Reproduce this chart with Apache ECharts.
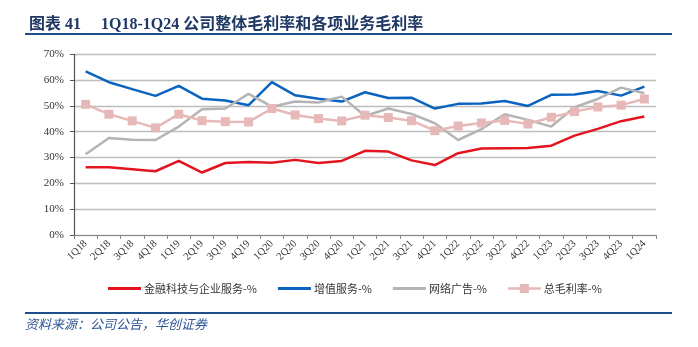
<!DOCTYPE html>
<html>
<head>
<meta charset="utf-8">
<script src="https://cdn.jsdelivr.net/npm/echarts@6/dist/echarts.min.js"></script>
<style>
  html, body { margin: 0; padding: 0; background: #ffffff; }
  #chart { width: 698px; height: 347px; }
</style>
</head>
<body>
<div id="chart"></div>
<script>
// Quarter labels
const quarters = ['1Q18','2Q18','3Q18','4Q18','1Q19','2Q19','3Q19','4Q19',
  '1Q20','2Q20','3Q20','4Q20','1Q21','2Q21','3Q21','4Q21',
  '1Q22','2Q22','3Q22','4Q22','1Q23','2Q23','3Q23','4Q23','1Q24'];

// Gross margin by segment (%)
const fintech = [26.2,26.2,25.5,24.7,28.7,24.2,27.9,28.3,28.0,29.1,27.9,28.7,
  32.6,32.3,28.9,27.1,31.7,33.5,33.6,33.7,34.6,38.5,41.1,44.1,45.9];
const vas = [63.4,59.2,56.5,53.9,57.8,52.8,52.1,50.3,59.2,54.1,52.8,51.7,
  55.3,53.1,53.2,49.0,50.8,50.9,51.9,50.0,54.3,54.4,55.8,54.0,57.5];
const ads = [31.3,37.6,36.9,36.8,42.0,48.7,49.0,54.7,49.7,51.7,51.3,53.6,
  46.1,49.0,46.9,43.3,36.8,41.0,46.8,44.6,42.0,49.5,52.7,57.1,54.9];
const total = [50.6,46.8,44.2,41.5,46.8,44.3,43.9,43.8,49.0,46.5,45.1,44.2,
  46.4,45.5,44.3,40.4,42.2,43.4,44.4,43.0,45.6,47.8,49.6,50.3,52.7];

const seriesNames = ['金融科技与企业服务-%', '增值服务-%', '网络广告-%', '总毛利率-%'];
const titleText = '图表 41     1Q18-1Q24 公司整体毛利率和各项业务毛利率';
const sourceText = '资料来源：公司公告，华创证券';

const serif = '"Liberation Serif", "Times New Roman", "Noto Sans CJK SC", serif';
const cjk = '"Noto Sans CJK SC", "Liberation Serif", sans-serif';
const navy = '#1F4E8C';

const colors = ['#E3141F', '#0B63C0', '#B4B4B4', '#E6B9B8'];

// Legend glyphs: a plain stroke, or a stroke with a square marker in the middle
const plainIcon = 'path://M0,0 H33 V3 H0 Z';
const markerIcon = 'path://M0,3.3 H12 V0 H21 V3.3 H33 V5.7 H21 V9 H12 V5.7 H0 Z';

const chart = echarts.init(document.getElementById('chart'), null, { renderer: 'canvas' });

function lineSeries(name, data, color, withMarker) {
  return {
    name: name,
    type: 'line',
    data: data,
    symbol: withMarker ? 'rect' : 'none',
    symbolSize: withMarker ? 9 : 0,
    showSymbol: !!withMarker,
    lineStyle: { color: color, width: 2.5 },
    itemStyle: { color: color },
    emphasis: { disabled: true },
    animation: false
  };
}

chart.setOption({
  backgroundColor: '#ffffff',
  animation: false,
  title: {
    text: titleText,
    left: 24,
    top: 12,
    textStyle: {
      fontFamily: serif,
      fontWeight: 'bold',
      fontSize: 16,
      color: '#1F3864'
    }
  },
  graphic: [
    { type: 'rect', shape: { x: 25, y: 33, width: 647, height: 2 }, style: { fill: navy } },
    { type: 'rect', shape: { x: 25, y: 312, width: 647, height: 2 }, style: { fill: navy } },
    {
      type: 'text', left: 25, top: 318,
      style: {
        text: sourceText,
        fontFamily: cjk,
        fontStyle: 'italic',
        fontSize: 13,
        fill: '#2F5597'
      }
    }
  ],
  legend: {
    left: 108,
    top: 283,
    padding: 0,
    itemWidth: 33,
    itemHeight: 12,
    itemGap: 21,
    symbolKeepAspect: true,
    data: seriesNames.map(function (n, i) {
      return {
        name: n,
        icon: i === 3 ? markerIcon : plainIcon,
        itemStyle: { color: colors[i] }
      };
    }),
    textStyle: { fontFamily: cjk, fontSize: 11, color: '#333333', padding: [0, 0, 0, -2] },
    selectedMode: false
  },
  grid: { left: 74, right: 42, top: 54.3, bottom: 112, containLabel: false },
  xAxis: {
    type: 'category',
    data: quarters,
    boundaryGap: true,
    axisLine: { lineStyle: { color: '#888888', width: 1.2 } },
    axisTick: { show: true, length: 4, lineStyle: { color: '#888888' } },
    axisLabel: {
      rotate: 45,
      interval: 0,
      margin: 7,
      fontFamily: serif,
      fontSize: 10.5,
      color: '#333333'
    },
    splitLine: { show: false }
  },
  yAxis: {
    type: 'value',
    min: 0,
    max: 70,
    interval: 10,
    axisLine: { show: true, lineStyle: { color: '#555555', width: 1.2 } },
    axisTick: { show: true, length: 4, lineStyle: { color: '#555555' } },
    axisLabel: {
      formatter: '{value}%',
      margin: 10,
      fontFamily: serif,
      fontSize: 11,
      color: '#333333'
    },
    splitLine: { show: true, lineStyle: { color: '#BDBDBD', width: 1.3 } }
  },
  series: [
    lineSeries(seriesNames[0], fintech, colors[0], false),
    lineSeries(seriesNames[1], vas, colors[1], false),
    lineSeries(seriesNames[2], ads, colors[2], false),
    lineSeries(seriesNames[3], total, colors[3], true)
  ]
});
</script>
</body>
</html>
